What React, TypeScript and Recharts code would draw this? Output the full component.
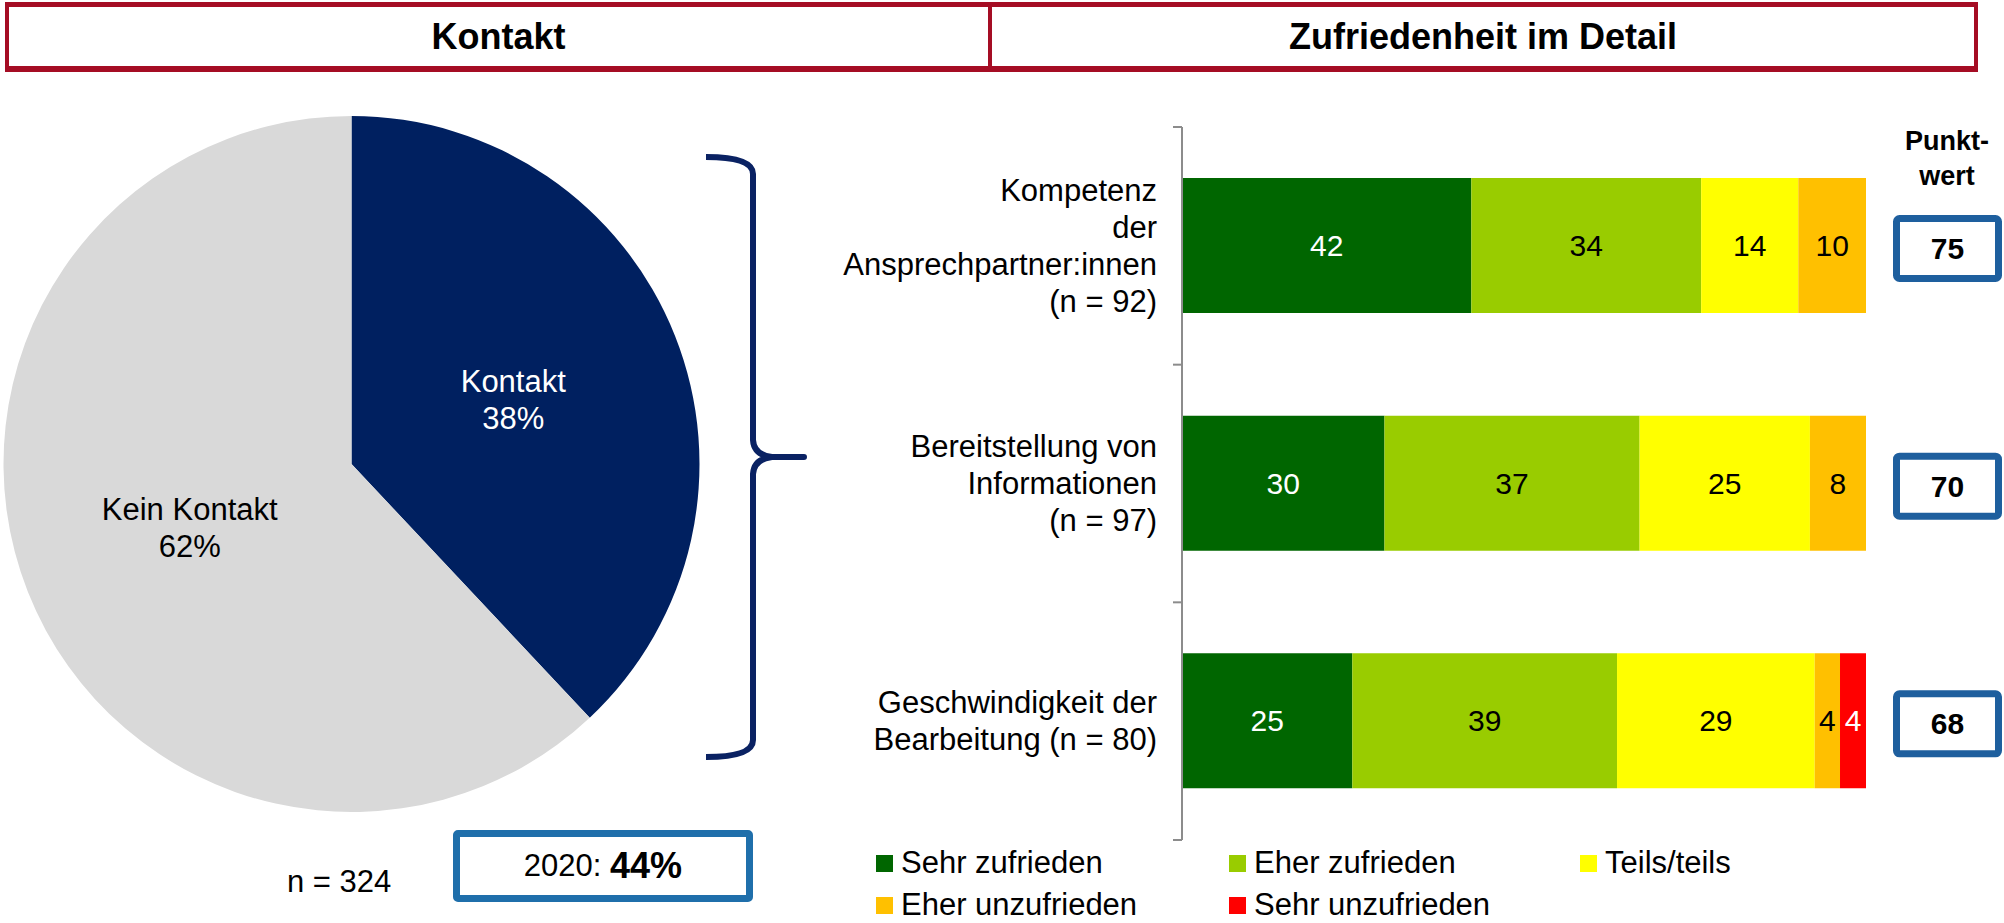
import React from "react";
import {
  PieChart,
  Pie,
  Cell,
  BarChart,
  Bar,
  XAxis,
  YAxis,
  LabelList,
} from "recharts";

const FONT = "'Liberation Sans', Arial, sans-serif";

// pie
const pieNames = ["Kontakt", "Kein Kontakt"];
const pieValues = [38, 62];
const pieColors = ["#002060", "#D9D9D9"];
const pieTextColors = ["#FFFFFF", "#000000"];

// bars
const categories = [
  ["Kompetenz", "der", "Ansprechpartner:innen", "(n = 92)"],
  ["Bereitstellung von", "Informationen", "(n = 97)"],
  ["Geschwindigkeit der", "Bearbeitung (n = 80)"],
];
const sehrZufrieden = [42.3, 29.6, 24.9];
const eherZufrieden = [33.6, 37.3, 38.7];
const teilsTeils = [14.2, 24.9, 28.9];
const eherUnzufrieden = [9.9, 8.2, 3.7];
const sehrUnzufrieden = [0, 0, 3.8];
const punktwert = [75, 70, 68];

const series = [
  { key: "s1", name: "Sehr zufrieden", values: sehrZufrieden, color: "#006600", text: "#FFFFFF" },
  { key: "s2", name: "Eher zufrieden", values: eherZufrieden, color: "#99CC00", text: "#000000" },
  { key: "s3", name: "Teils/teils", values: teilsTeils, color: "#FFFF00", text: "#000000" },
  { key: "s4", name: "Eher unzufrieden", values: eherUnzufrieden, color: "#FFC000", text: "#000000" },
  { key: "s5", name: "Sehr unzufrieden", values: sehrUnzufrieden, color: "#FF0000", text: "#FFFFFF" },
];

const vergleichJahr = "2020";
const vergleichWert = "44%";
const nGesamt = "n = 324";

const pieData = pieNames.map((name, i) => ({ name, value: pieValues[i] }));

const barData = categories.map((lines, i) => {
  const row: Record<string, any> = { name: lines.join(" "), lines, punkt: punktwert[i] };
  series.forEach((s) => (row[s.key] = s.values[i]));
  return row;
});

const CHART_H = 923;
const MARGIN = { top: 127, right: 138, bottom: 83, left: 0 };
const BAND = (CHART_H - MARGIN.top - MARGIN.bottom) / categories.length;
const TICK_MARGIN = 25;
const AXIS_GREY = "#8C8C8C";

const RAD = Math.PI / 180;

function PieLabel(props: any) {
  const { cx, cy, midAngle, outerRadius, index } = props;
  const r = outerRadius * 0.5;
  const x = cx + r * Math.cos(-midAngle * RAD);
  const y = cy + r * Math.sin(-midAngle * RAD);
  return (
    <text x={x} y={y} textAnchor="middle" fill={pieTextColors[index]} fontSize={31} fontFamily={FONT}>
      <tspan x={x} dy={-18.5} dominantBaseline="central">{pieNames[index]}</tspan>
      <tspan x={x} dy={37} dominantBaseline="central">{`${pieValues[index]}%`}</tspan>
    </text>
  );
}

// category labels + tick marks at the band boundaries (Excel style)
function CategoryTick(props: any) {
  const { x, y, index } = props;
  const lines = categories[index] || [];
  const lh = 37;
  const top = y - ((lines.length - 1) * lh) / 2;
  const ax = x + TICK_MARGIN;
  const last = index === categories.length - 1;
  return (
    <g>
      <line x1={ax - 9} x2={ax} y1={y - BAND / 2} y2={y - BAND / 2} stroke={AXIS_GREY} strokeWidth={2} />
      {last && <line x1={ax - 9} x2={ax} y1={y + BAND / 2} y2={y + BAND / 2} stroke={AXIS_GREY} strokeWidth={2} />}
      <text textAnchor="end" fontSize={31} fontFamily={FONT} fill="#000">
        {lines.map((l, i) => (
          <tspan key={i} x={x} y={top + i * lh} dominantBaseline="central">
            {l}
          </tspan>
        ))}
      </text>
    </g>
  );
}

function valueLabel(color: string) {
  return (props: any) => {
    const { x, y, width, height, value } = props;
    if (!value || value <= 0) return null;
    return (
      <text
        x={x + width / 2}
        y={y + height / 2}
        textAnchor="middle"
        dominantBaseline="central"
        fill={color}
        fontSize={30}
        fontFamily={FONT}
      >
        {Math.round(value)}
      </text>
    );
  };
}

function PunktBox(props: any) {
  const { y, height, value } = props;
  const bx = 1073;
  const cy = y + height / 2 + 3;
  return (
    <g>
      <rect x={bx + 3.5} y={cy - 30} width={102} height={60} rx={3} fill="#fff" stroke="#1E5F9E" strokeWidth={7} />
      <text x={bx + 54.5} y={cy} textAnchor="middle" dominantBaseline="central" fontSize={30} fontWeight="bold" fontFamily={FONT}>
        {value}
      </text>
    </g>
  );
}

const headerBox = (left: number, width: number, title: string) => (
  <div
    style={{
      position: "absolute",
      left,
      top: 2,
      width,
      height: 70,
      boxSizing: "border-box",
      borderStyle: "solid",
      borderColor: "#A50D24",
      borderWidth: "5px 4px 6px 4px",
      display: "flex",
      alignItems: "center",
      justifyContent: "center",
      fontWeight: "bold",
      fontSize: 36,
    }}
  >
    {title}
  </div>
);

const legendPos = [
  [876, 863],
  [1229, 863],
  [1580, 863],
  [876, 905],
  [1229, 905],
];

export default function App() {
  return (
    <div style={{ position: "absolute", left: 0, top: 0, width: 2004, height: 923, fontFamily: FONT, background: "#fff", overflow: "hidden" }}>
      {headerBox(5, 987, "Kontakt")}
      {headerBox(988, 990, "Zufriedenheit im Detail")}

      <div style={{ position: "absolute", left: 0, top: 0 }}>
        <PieChart width={710} height={830} margin={{ top: 0, right: 0, bottom: 0, left: 0 }}>
          <Pie
            data={pieData}
            dataKey="value"
            nameKey="name"
            cx={351.5}
            cy={464}
            outerRadius={348}
            startAngle={90}
            endAngle={-270}
            stroke="none"
            label={PieLabel}
            labelLine={false}
            isAnimationActive={false}
          >
            {pieData.map((d, i) => (
              <Cell key={d.name} fill={pieColors[i]} />
            ))}
          </Pie>
        </PieChart>
      </div>

      <svg style={{ position: "absolute", left: 0, top: 0 }} width={2004} height={923}>
        <path
          d="M706,157 Q753,157 753,174 L753,440 Q754,455 772,457 L804,457 L772,457 Q754,459 753,474 L753,740 Q753,757 706,757"
          fill="none"
          stroke="#0A2263"
          strokeWidth={6}
          strokeLinejoin="round"
        />
      </svg>

      <div style={{ position: "absolute", left: 287, top: 862, fontSize: 31, lineHeight: "40px" }}>{nGesamt}</div>
      <div
        style={{
          position: "absolute",
          left: 453,
          top: 830,
          width: 300,
          height: 72,
          boxSizing: "border-box",
          border: "7px solid #1F6FAB",
          borderRadius: 5,
          display: "flex",
          alignItems: "center",
          justifyContent: "center",
          fontSize: 31,
        }}
      >
        <span>{vergleichJahr}:&nbsp;</span>
        <span style={{ fontWeight: "bold", fontSize: 36 }}>{vergleichWert}</span>
      </div>

      <div style={{ position: "absolute", left: 820, top: 0 }}>
        <BarChart width={1184} height={CHART_H} data={barData} layout="vertical" margin={MARGIN}>
          <XAxis type="number" domain={[0, 100]} hide />
          <YAxis
            type="category"
            dataKey="name"
            width={362}
            tickSize={0}
            tickMargin={TICK_MARGIN}
            interval={0}
            axisLine={{ stroke: AXIS_GREY, strokeWidth: 2 }}
            tickLine={false}
            tick={<CategoryTick />}
          />
          {series.map((s, si) => (
            <Bar
              key={s.key}
              dataKey={s.key}
              name={s.name}
              stackId="a"
              fill={s.color}
              barSize={135}
              isAnimationActive={false}
            >
              <LabelList dataKey={s.key} content={valueLabel(s.text)} />
              {si === 0 && <LabelList dataKey="punkt" content={<PunktBox />} />}
            </Bar>
          ))}
        </BarChart>
      </div>

      <div
        style={{
          position: "absolute",
          left: 1887,
          top: 124,
          width: 120,
          textAlign: "center",
          fontWeight: "bold",
          fontSize: 27,
          lineHeight: "35px",
        }}
      >
        Punkt-
        <br />
        wert
      </div>

      {series.map((s, i) => (
        <div
          key={s.key}
          style={{
            position: "absolute",
            left: legendPos[i][0],
            top: legendPos[i][1] - 20,
            height: 40,
            display: "flex",
            alignItems: "center",
            fontSize: 31,
            whiteSpace: "nowrap",
          }}
        >
          <span style={{ display: "inline-block", width: 17, height: 17, background: s.color, marginRight: 8 }} />
          {s.name}
        </div>
      ))}
    </div>
  );
}
